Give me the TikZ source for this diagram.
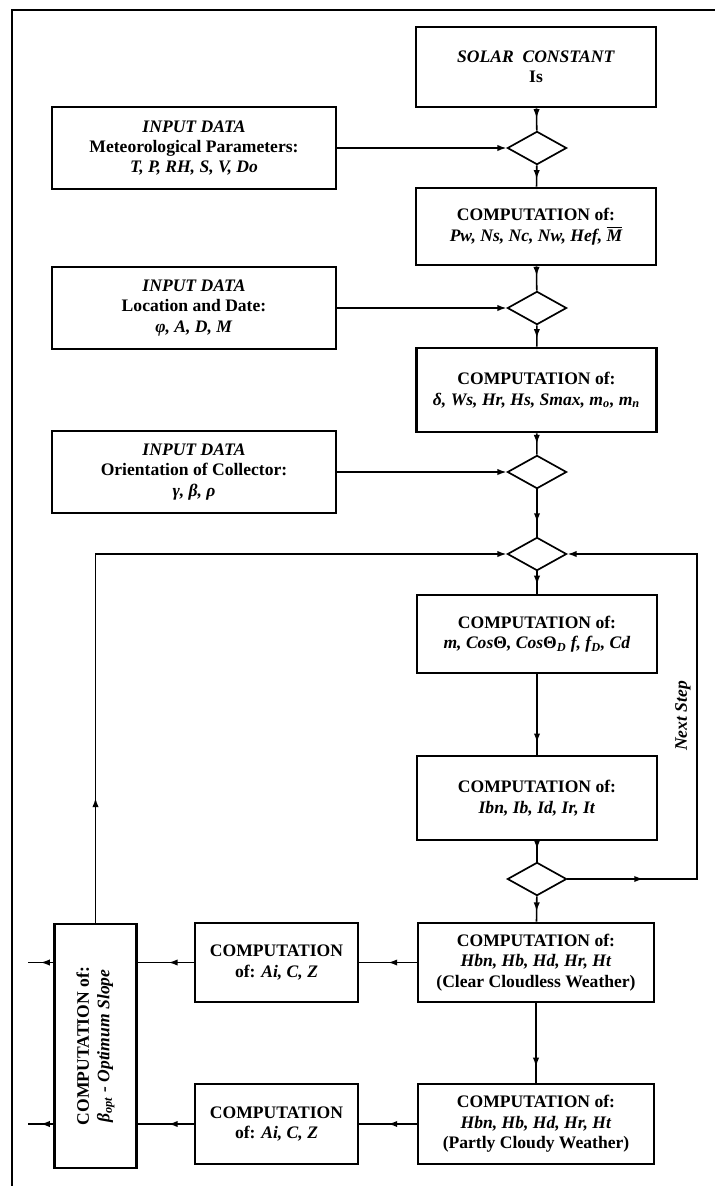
\documentclass[tikz,border=0pt]{standalone}
\usepackage{fontspec}
\setmainfont{Liberation Serif}
\usetikzlibrary{shapes.geometric}
\usetikzlibrary{decorations.markings}
\usetikzlibrary{arrows.meta}
\tikzset{
    box/.style = {rectangle, line width=1.8pt, draw=black, align=center, inner sep=2pt, font=\bfseries\fontsize{12.5}{14.5}\selectfont},
    inbox/.style = {box, minimum width=7.1cm, minimum height=2.05cm},
    compbox/.style = {box, minimum width=6.0cm, minimum height=2.0cm},
    smallbox/.style = {box, minimum width=4.08cm, minimum height=2.0cm},
    slopebox/.style = {box, minimum width=2.05cm, minimum height=6.1cm},
    decide/.style = {diamond, line width=1.2pt, draw=black, minimum width=1.48cm, minimum height=0.83cm, inner sep=0pt},
    flow/.style = {line width=1.1pt, >={Latex[length=6.5pt,width=4.5pt]}},
    frame/.style = {line width=1.2pt},
    midarrow/.style = {postaction={decorate}, decoration={markings, mark=at position #1 with {\arrow{Latex[length=6.5pt,width=4.5pt]}}}},
    steplbl/.style = {font=\bfseries\itshape\fontsize{12.5}{14.5}\selectfont, inner sep=1pt}
}
\begin{document}
\begin{tikzpicture}[x=0.025cm, y=-0.025cm]
\path[use as bounding box] (0,0) rectangle (715,1186);
\draw[frame] (715,10) -- (12,10) -- (12,1186);
%
\node[compbox] at (536,67) (solar) {\textit{SOLAR\ \ CONSTANT}\\Is};
\node[decide] at (537,148) (d1) {};
\node[inbox] at (194,148) (in1) {\textit{INPUT DATA}\\Meteorological Parameters:\\\textit{T, P, RH, S, V, Do}};
\node[compbox, minimum height=1.93cm] at (536,226.5) (comp1) {COMPUTATION of:\\\textit{Pw, Ns, Nc, Nw, Hef, $\overline{\mbox{\textit{M}}}$}};
%
\node[decide] at (537,308) (d2) {};
\node[inbox] at (194,308) (in2) {\textit{INPUT DATA}\\Location and Date:\\\textit{φ, A, D, M}};
\node[compbox, minimum height=2.1cm] at (536.5,390) (comp2) {COMPUTATION of:\\\textit{δ, Ws, Hr, Hs, Smax, m\textsubscript{o}, m\textsubscript{n}}};
%
\node[decide] at (537,472) (d3) {};
\node[inbox] at (194,472) (in3) {\textit{INPUT DATA}\\Orientation of Collector:\\\textit{γ, β, ρ}};
%
\node[decide] at (537,554) (d4) {};
\node[compbox, minimum height=1.95cm] at (537,634) (comp3) {COMPUTATION of:\\\textit{m, Cos}Θ\textit{, Cos}Θ\textsubscript{\textit{D}} \textit{f, f\textsubscript{D}, Cd}};
\node[compbox, minimum height=2.1cm] at (537,798) (comp4) {COMPUTATION of:\\\textit{Ibn, Ib, Id, Ir, It}};
\node[decide] at (537,879) (d5) {};
\node[compbox, minimum width=5.9cm, minimum height=1.98cm] at (536,962.5) (comp5) {COMPUTATION of:\\\textit{Hbn, Hb, Hd, Hr, Ht}\\(Clear Cloudless Weather)};
\node[compbox, minimum width=5.9cm] at (536,1124) (comp6) {COMPUTATION of:\\\textit{Hbn, Hb, Hd, Hr, Ht}\\(Partly Cloudy Weather)};
%
\node[smallbox, minimum height=1.98cm] at (276.5,962.5) (aicz1) {COMPUTATION\\of: \textit{Ai, C, Z}};
\node[smallbox] at (276.5,1124) (aicz2) {COMPUTATION\\of: \textit{Ai, C, Z}};
\node[slopebox] at (95.5,1046) (beta) {};
\node[rotate=90, align=center, font=\bfseries\fontsize{12.5}{14.5}\selectfont] at (beta.center) (betatxt) {COMPUTATION of:\\\textit{β\textsubscript{opt} - Optimum Slope}};
%
\coordinate (rloop) at (697,554);
\coordinate (out1) at (28,962.5);
\coordinate (out2) at (28,1124);
\node[steplbl, rotate=90] at (683,716) (nextlbl) {Next Step};
%
\draw[flow, midarrow=0.45] (solar) -- (d1);
\draw[flow, ->] (in1.east) -- (d1.west);
\draw[flow, midarrow=0.65] (d1) -- (comp1);
\draw[flow, midarrow=0.4] (comp1) -- (d2);
\draw[flow, ->] (in2.east) -- (d2.west);
\draw[flow, midarrow=0.6] (d2) -- (comp2);
\draw[flow, midarrow=0.5] (comp2) -- (d3);
\draw[flow, ->] (in3.east) -- (d3.west);
\draw[flow, midarrow=0.7] (d3) -- (d4);
\draw[flow, midarrow=0.6] (d4) -- (comp3);
\draw[flow, midarrow=0.85] (comp3) -- (comp4);
\draw[flow, midarrow=0.4] (comp4) -- (d5);
\draw[flow, midarrow=0.6] (d5) -- (comp5);
\draw[flow, midarrow=0.8] (comp5) -- (comp6);
% loops back to the top diamond
\draw[flow, midarrow=0.13, ->] (d5.east) -- (d5.east -| rloop) |- (d4.east);
\draw[flow, midarrow=0.16, ->] (beta.north) |- (d4.west);
% outputs
\draw[flow, midarrow=0.5] (comp5) -- (aicz1);
\draw[flow, midarrow=0.45] (aicz1) -- (beta.east |- aicz1);
\draw[flow, midarrow=0.5] (beta.west |- out1) -- (out1);
\draw[flow, midarrow=0.5] (comp6) -- (aicz2);
\draw[flow, midarrow=0.45] (aicz2) -- (beta.east |- aicz2);
\draw[flow, midarrow=0.5] (beta.west |- out2) -- (out2);

\end{tikzpicture}
\end{document}
